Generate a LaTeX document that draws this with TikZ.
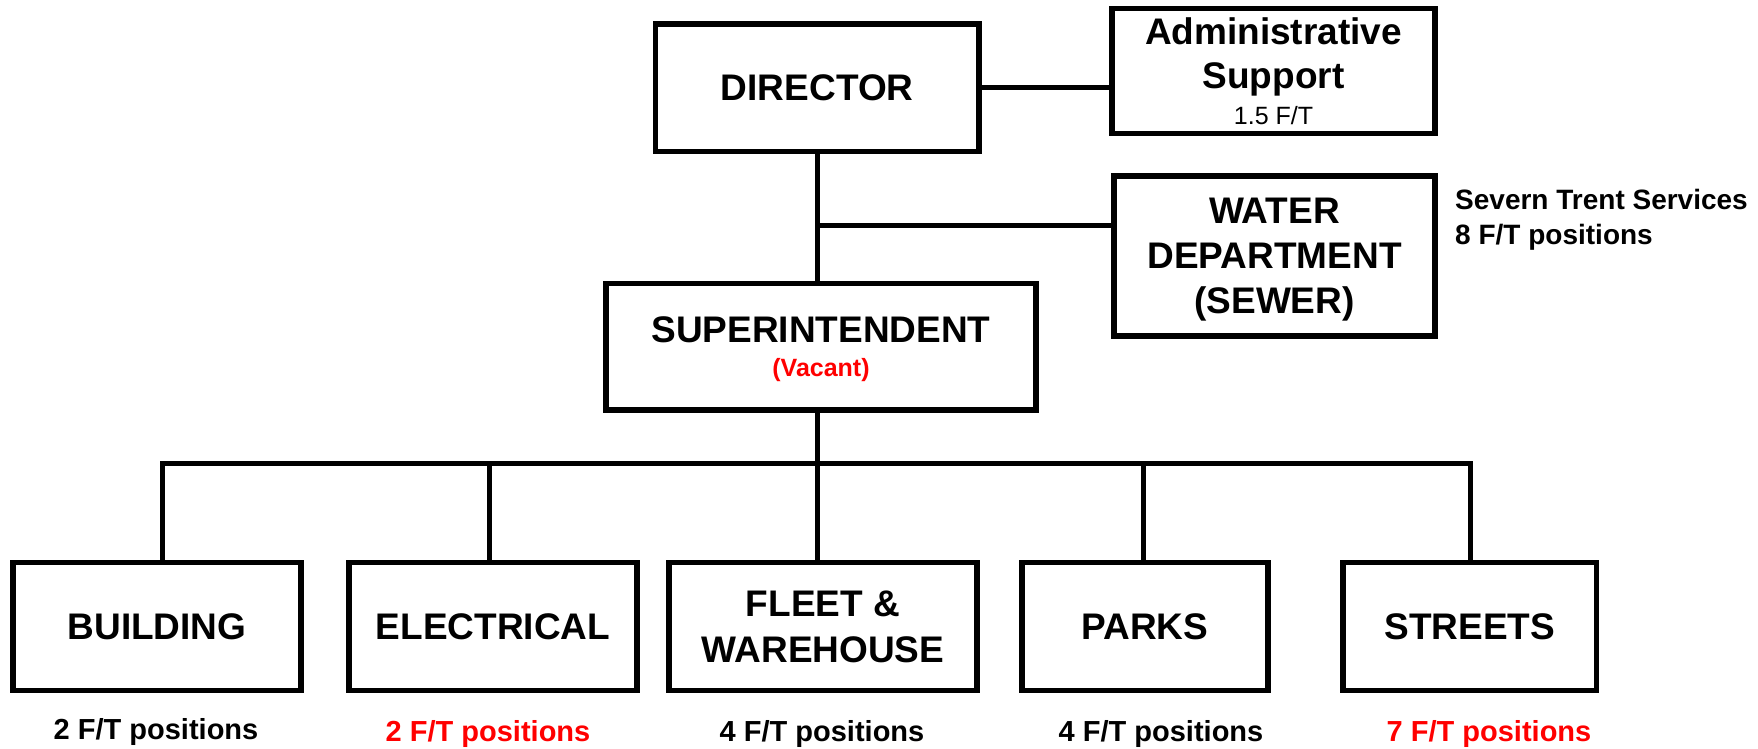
\documentclass[tikz,border=0pt]{standalone}
\usepackage{fontspec}
\setmainfont{Liberation Sans}
\begin{document}
\begin{tikzpicture}[x=1pt,y=-1pt,
  box/.style={draw=black, line width=5.5pt, rectangle, inner sep=0pt,
    align=center, text depth=0pt, font=\bfseries\fontsize{37}{45}\selectfont},
  link/.style={draw=black, line width=5pt},
  count/.style={anchor=base, inner sep=0pt, font=\bfseries\fontsize{29}{34}\selectfont},
  note/.style={anchor=base west, inner sep=0pt, font=\bfseries\fontsize{28}{34}\selectfont}]
\useasboundingbox (0,0) rectangle (1758,749);

% upper tier
\node[box, minimum width=323.5pt, minimum height=127.5pt] (dir) at (817.25,87.75) {DIRECTOR};
\node[box, minimum width=323pt, minimum height=125pt] (adm) at (1273.5,71)
  {Administrative\\[-1.7pt]Support\\[-9pt]{\mdseries\fontsize{25}{30}\selectfont 1.5 F/T}};
\node[box, minimum width=321pt, minimum height=160pt] (wat) at (1274.5,256)
  {WATER\\DEPARTMENT\\(SEWER)};
\node[box, minimum width=430pt, minimum height=126.5pt] (sup) at (821,346.75)
  {SUPERINTENDENT\\[-11pt]{\fontsize{25}{30}\selectfont\color{red}(Vacant)}};

% contractor note
\node[note] (sts1) at (1455,209) {Severn Trent Services};
\node[note] (sts2) at (1455,244) {8 F/T positions};

% divisions
\node[box, minimum width=288pt, minimum height=128pt] (bld) at (157,626.5) {BUILDING};
\node[box, minimum width=288pt, minimum height=128pt] (ele) at (493,626.5) {ELECTRICAL};
\node[box, minimum width=308pt, minimum height=128pt] (flt) at (823,626.5) {FLEET \&\\[1pt]WAREHOUSE};
\node[box, minimum width=246pt, minimum height=128pt] (prk) at (1145,626.5) {PARKS};
\node[box, minimum width=253.5pt, minimum height=128pt] (str) at (1469.75,626.5) {STREETS};

% staffing counts
\node[count] (nb) at (156,739) {2 F/T positions};
\node[count, text=red] (ne) at (488,741.5) {2 F/T positions};
\node[count] (nf) at (822,741) {4 F/T positions};
\node[count] (np) at (1161,741.5) {4 F/T positions};
\node[count, text=red] (ns) at (1489,741) {7 F/T positions};

% reporting lines
\draw[link] (dir.south) -- (dir.south |- sup.north);
\draw[link] (dir.east) -- (dir.east -| adm.west);
\coordinate (wj) at (817.25,225);
\draw[link] (wj) -- (wj -| wat.west);
\draw[link] (dir.south |- sup.south) -- (dir.south |- flt.north);
\coordinate (busL) at (162.5,463);
\coordinate (busR) at (1470.7,463);
\draw[link, line join=miter] (busL |- bld.north) -- (busL) -- (busR) -- (busR |- str.north);
\coordinate (ej) at (489.7,463);
\draw[link] (ej) -- (ej |- ele.north);
\coordinate (pj) at (1143.2,463);
\draw[link] (pj) -- (pj |- prk.north);
\end{tikzpicture}
\end{document}
